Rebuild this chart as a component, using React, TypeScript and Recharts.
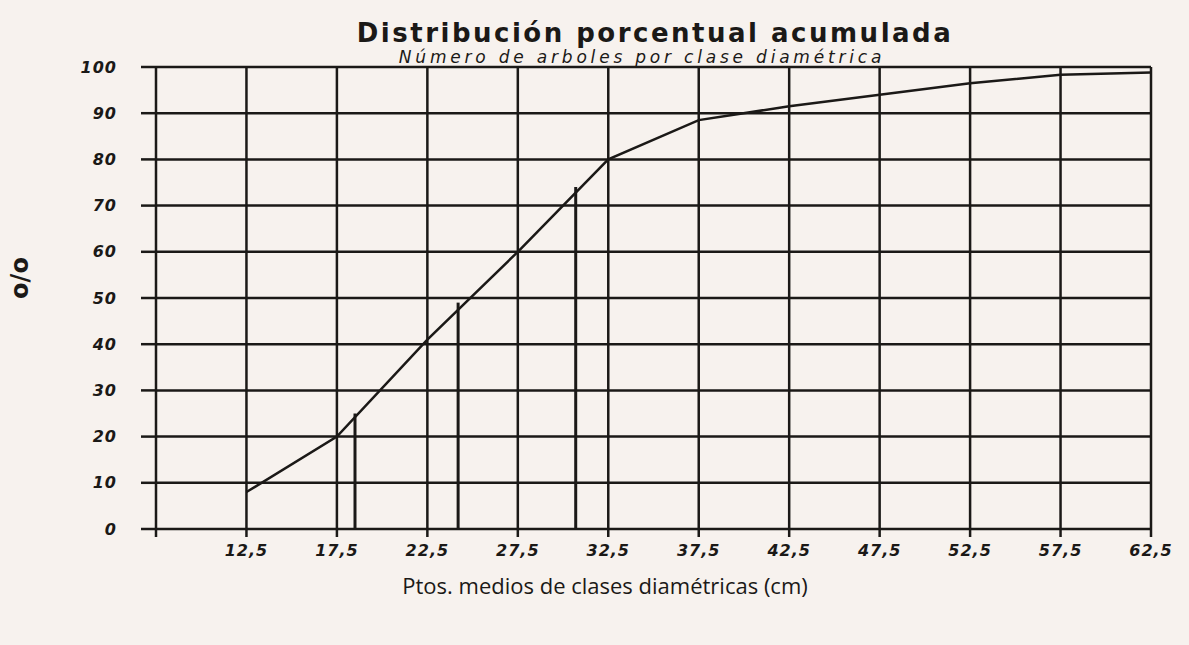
import { LineChart, Line, XAxis, YAxis, CartesianGrid, ReferenceLine } from 'recharts';

// diameter class midpoints (cm) and cumulative % of trees
const diameters = [12.5, 17.5, 22.5, 27.5, 32.5, 37.5, 42.5, 47.5, 52.5, 57.5, 62.5];
const cumulativePct = [8, 20, 41, 60, 80, 88.5, 91.5, 94, 96.5, 98.3, 98.8];

const xTicks = [7.5, 12.5, 17.5, 22.5, 27.5, 32.5, 37.5, 42.5, 47.5, 52.5, 57.5, 62.5];
const yTicks = [0, 10, 20, 30, 40, 50, 60, 70, 80, 90, 100];

// vertical markers (quartiles) drawn from the baseline up to the curve
const markerX = [18.5, 24.2, 30.7];
const markerPct = [25, 49, 74];

const INK = '#1b1917';
const PAPER = '#f7f2ee';

const data = diameters.map((x, i) => ({ x, pct: cumulativePct[i] }));

const tickStyle = {
  fontSize: 16,
  fontWeight: 'bold',
  fontStyle: 'italic',
  fill: INK,
  fontFamily: 'DejaVu Sans',
  letterSpacing: 1,
};

const fmtX = (v: number) => (v === 7.5 ? '' : v.toFixed(1).replace('.', ','));

export default function App() {
  return (
    <div style={{ position: 'absolute', left: 0, top: 0, width: 1189, height: 645, background: PAPER, overflow: 'hidden' }}>
      <div
        style={{
          position: 'absolute', left: 655, top: 33, transform: 'translate(-50%, -50%)', whiteSpace: 'nowrap',
          fontFamily: 'DejaVu Sans', fontWeight: 'bold', fontSize: 26, letterSpacing: 2.5, color: INK,
        }}
      >
        Distribución porcentual acumulada
      </div>
      <div
        style={{
          position: 'absolute', left: 642, top: 57, transform: 'translate(-50%, -50%)', whiteSpace: 'nowrap',
          fontFamily: 'DejaVu Sans', fontStyle: 'italic', fontSize: 17, letterSpacing: 3.8, color: INK,
        }}
      >
        Número de arboles por clase diamétrica
      </div>
      <div
        style={{
          position: 'absolute', left: 20, top: 278, transform: 'translate(-50%, -50%) rotate(-90deg)', whiteSpace: 'nowrap',
          fontFamily: 'DejaVu Sans', fontWeight: 'bold', fontSize: 24, color: INK,
        }}
      >
        o/o
      </div>
      <div
        style={{
          position: 'absolute', left: 605, top: 585, transform: 'translate(-50%, -50%)', whiteSpace: 'nowrap',
          fontFamily: 'Open Sans', fontSize: 22, color: INK,
        }}
      >
        Ptos. medios de clases diamétricas (cm)
      </div>

      <div style={{ position: 'absolute', left: 0, top: 0 }}>
        <LineChart width={1189} height={645} data={data} margin={{ top: 67, right: 38, left: 96, bottom: 76 }}>
          <CartesianGrid stroke={INK} strokeWidth={2.5} strokeOpacity={1} />
          <XAxis
            dataKey="x"
            type="number"
            domain={[7.5, 62.5]}
            ticks={xTicks}
            tickFormatter={fmtX}
            interval={0}
            height={40}
            axisLine={false}
            tickLine={{ stroke: INK, strokeWidth: 2.5 }}
            tickSize={8}
            tickMargin={8}
            tick={tickStyle}
          />
          <YAxis
            type="number"
            domain={[0, 100]}
            ticks={yTicks}
            interval={0}
            width={60}
            axisLine={false}
            tickLine={{ stroke: INK, strokeWidth: 2.5 }}
            tickSize={15}
            tickMargin={24}
            tick={tickStyle}
          />
          {markerX.map((mx, i) => (
            <ReferenceLine
              key={mx}
              segment={[{ x: mx, y: 0 }, { x: mx, y: markerPct[i] }]}
              stroke={INK}
              strokeWidth={3}
            />
          ))}
          <Line
            type="linear"
            dataKey="pct"
            stroke={INK}
            strokeWidth={2.5}
            dot={false}
            isAnimationActive={false}
          />
        </LineChart>
      </div>
    </div>
  );
}
